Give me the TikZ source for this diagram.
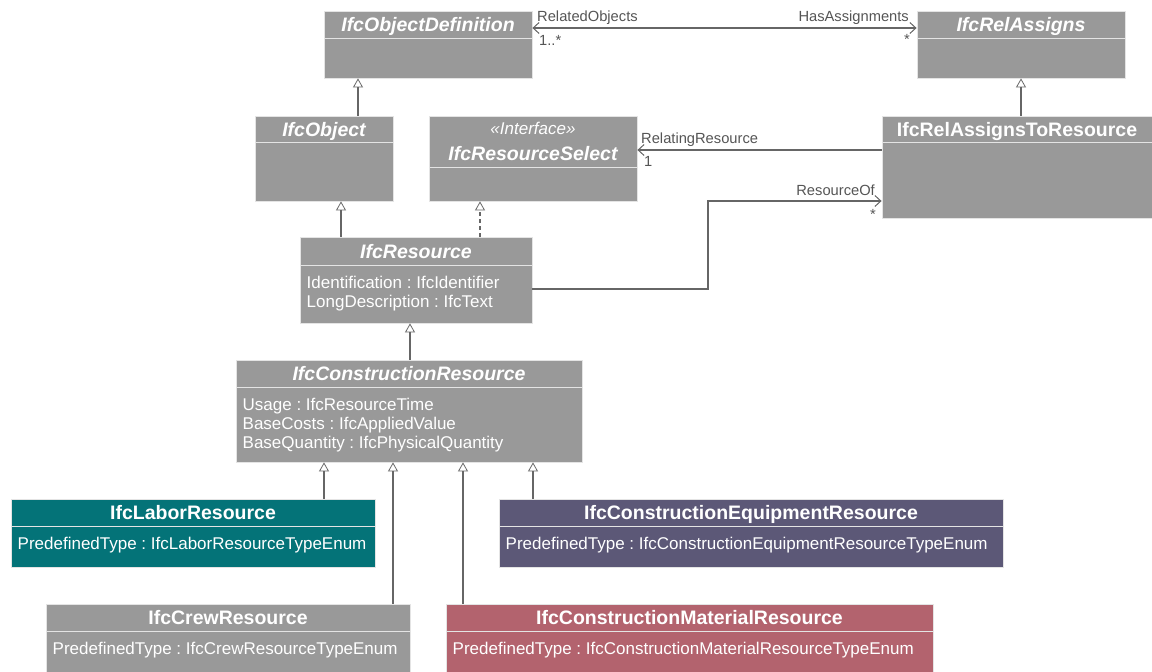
\documentclass[tikz,border=0pt]{standalone}
\usepackage{fontspec}
\setmainfont{Liberation Sans}
\usetikzlibrary{arrows.meta,fit}
\frenchspacing

\definecolor{boxgray}{HTML}{999999}
\definecolor{labor}{HTML}{047378}
\definecolor{equip}{HTML}{5C5877}
\definecolor{material}{HTML}{B3636E}
\definecolor{linegray}{HTML}{666666}
\definecolor{labelgray}{HTML}{555555}
\definecolor{rulecol}{HTML}{E4E4E4}

\tikzset{
  classbody/.style={draw=rulecol, line width=0.8pt, inner sep=0pt},
  sepline/.style={draw=rulecol, line width=1pt},
  titletext/.style={text=white, font=\fontsize{19.5}{21}\selectfont\bfseries,
    inner sep=0pt, align=center, text height=14pt, text depth=0pt},
  attrtext/.style={text=white, font=\fontsize{17}{19}\selectfont,
    align=left, inner sep=0pt, anchor=north west},
  gen/.style={draw=linegray, line width=1.3pt,
    -{Triangle[open, length=9pt, width=10pt, line width=0.8pt]}},
  realize/.style={gen, dash pattern=on 4pt off 3pt},
  assoc/.style={draw=linegray, line width=1.3pt},
  barb/.tip={Straight Barb[length=6pt, width=11pt, line width=1pt]},
  rolelabel/.style={text=labelgray, font=\fontsize{14.7}{16}\selectfont, inner sep=0pt},
}

% #1 name, #2 x left, #3 y top, #4 x right, #5 y bottom, #6 y of separator,
% #7 fill colour, #8 title, #9 attributes
\newcommand\classbox[9]{%
  \node[classbody, fill=#7, fit={(#2,#3) (#4,#5)}] (#1) {};
  \draw[sepline] (#2,#6) -- (#4,#6);
  \node[titletext] (#1-title) at ({(#2+#4)/2},{(#3+#6)/2}) {#8};
  \if\relax\detokenize{#9}\relax\else
    \node[attrtext] (#1-attrs) at ({#2+6.5},{#6+10.5}) {#9};
  \fi}

\begin{document}
\begin{tikzpicture}[x=1pt, y=-1pt]
\useasboundingbox (0,0) rectangle (1152,672);

% classes
\classbox{objdef}{324}{11}{532}{78}{38}{boxgray}{\itshape IfcObjectDefinition}{}
\classbox{relassigns}{917}{11}{1125}{78}{38}{boxgray}{\itshape IfcRelAssigns}{}
\classbox{object}{255}{116}{393}{201}{142}{boxgray}{\itshape IfcObject}{}
\classbox{reltores}{882}{116}{1152}{218}{142}{boxgray}{IfcRelAssignsToResource}{}

% interface with stereotype
\node[classbody, fill=boxgray, fit={(429,116) (637,201)}] (ressel) {};
\draw[sepline] (429,167) -- (637,167);
\node[text=white, font=\fontsize{17}{19}\selectfont\itshape, inner sep=0pt]
  (ressel-stereo) at (533,128) {«Interface»};
\node[titletext] (ressel-title) at (533,153) {\itshape IfcResourceSelect};

\classbox{resource}{300}{237}{532}{323}{265}{boxgray}{\itshape IfcResource}
  {Identification : IfcIdentifier\\LongDescription : IfcText}
\classbox{conres}{236}{360}{582}{462}{387}{boxgray}{\itshape IfcConstructionResource}
  {Usage : IfcResourceTime\\BaseCosts : IfcAppliedValue\\BaseQuantity : IfcPhysicalQuantity}
\classbox{labor}{11}{499}{375}{567}{526}{labor}{IfcLaborResource}
  {PredefinedType : IfcLaborResourceTypeEnum}
\classbox{equip}{499}{499}{1003}{567}{526}{equip}{IfcConstructionEquipmentResource}
  {PredefinedType : IfcConstructionEquipmentResourceTypeEnum}
\classbox{crew}{46}{604}{410}{672}{631}{boxgray}{IfcCrewResource}
  {PredefinedType : IfcCrewResourceTypeEnum}
\classbox{material}{446}{604}{933}{672}{631}{material}{IfcConstructionMaterialResource}
  {PredefinedType : IfcConstructionMaterialResourceTypeEnum}

% generalisations
\draw[gen] (object.north -| 358,0) -- (objdef.south -| 358,0);
\draw[gen] (reltores.north -| 1021,0) -- (relassigns.south -| 1021,0);
\draw[gen] (resource.north -| 341,0) -- (object.south -| 341,0);
\draw[realize] (resource.north -| 480,0) -- (ressel.south -| 480,0);
\draw[gen] (conres.north -| 410,0) -- (resource.south -| 410,0);
\draw[gen] (labor.north -| 324,0) -- (conres.south -| 324,0);
\draw[gen] (crew.north -| 393,0) -- (conres.south -| 393,0);
\draw[gen] (material.north -| 463,0) -- (conres.south -| 463,0);
\draw[gen] (equip.north -| 533,0) -- (conres.south -| 533,0);

% associations
\draw[assoc, barb-barb] (objdef.east |- 0,28) -- (relassigns.west |- 0,28);
\node[rolelabel, anchor=base west] (relobj) at (537,21) {RelatedObjects};
\node[rolelabel, anchor=base west] (relobj-m) at (539,45) {1..*};
\node[rolelabel, anchor=base east] (hasass) at (909,21) {HasAssignments};
\node[rolelabel, anchor=base east] (hasass-m) at (910,44) {*};

\draw[assoc, -barb] (reltores.west |- 0,150) -- (ressel.east |- 0,150);
\node[rolelabel, anchor=base west] (relres) at (641,143) {RelatingResource};
\node[rolelabel, anchor=base west] (relres-m) at (644,166) {1};

\coordinate (bend1) at (708,289);
\coordinate (bend2) at (708,201);
\draw[assoc, -barb] (resource.east |- bend1) -- (bend1) -- (bend2) -- (reltores.west |- bend2);
\node[rolelabel, anchor=base east] (resof) at (875,195) {ResourceOf};
\node[rolelabel, anchor=base east] (resof-m) at (876,219) {*};
\end{tikzpicture}
\end{document}
